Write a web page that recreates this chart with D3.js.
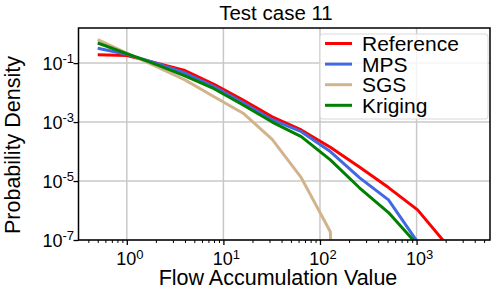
<!DOCTYPE html>
<html>
<head>
<meta charset="utf-8">
<script src="https://cdn.jsdelivr.net/npm/d3@7"></script>
<style>
  body { margin: 0; background: #fff; }
  text { font-family: 'Liberation Sans', Arial, sans-serif; fill: #000; }
</style>
</head>
<body>
<script>
var width = 500
var height = 297
/* global d3 */

// histogram bin centres (flow accumulation value)
var bins = [0.5, 1, 2, 4, 8, 16, 32, 64, 128, 256, 512, 1024, 2048]

// probability density per series (0 = empty bin, null = no bin)
var reference = [0.19, 0.18, 0.102, 0.056, 0.019, 0.0056, 1.5e-3, 5.4e-4, 1.4e-4, 3.0e-5, 6.0e-6, 1.05e-6, 7e-8]
var mps = [0.32, 0.2, 0.10, 0.046, 0.016, 4.5e-3, 1.2e-3, 4.7e-4, 1.0e-4, 1.3e-5, 2.3e-6, 8.5e-8, null]
var sgs = [0.62, 0.22, 0.078, 0.027, 7.2e-3, 2.0e-3, 2.6e-4, 1.3e-5, 1.9e-7, 0, null, null, null]
var kriging = [0.48, 0.21, 0.091, 0.037, 0.0135, 3.8e-3, 1.0e-3, 3.2e-4, 5.2e-5, 5.9e-6, 8.5e-7, 6.8e-8, null]

var seriesNames = ['Reference', 'MPS', 'SGS', 'Kriging']
var seriesColours = ['#ff0000', '#4169e1', '#d2b48c', '#008000']
var seriesValues = [reference, mps, sgs, kriging]

var xTicks = [1, 10, 100, 1000]
var yTicks = [1e-1, 1e-3, 1e-5, 1e-7]

var margin = { left: 78.5, right: 10, top: 28, bottom: 57 }

var svg = d3.select('body').append('svg')
  .attr('width', width)
  .attr('height', height)

var x = d3.scaleLog()
  .domain([Math.pow(10, -0.5), Math.pow(10, 3.76)])
  .range([margin.left, width - margin.right])

var y = d3.scaleLog()
  .domain([1e-7, Math.pow(10, 0.19)])
  .range([height - margin.bottom, margin.top])

var x0 = margin.left
var x1 = width - margin.right
var y0 = height - margin.bottom
var y1 = margin.top

svg.append('defs').append('clipPath').attr('id', 'plot')
  .append('rect')
  .attr('x', x0).attr('y', y1)
  .attr('width', x1 - x0).attr('height', y0 - y1)

// grid
var grid = svg.append('g').attr('stroke', '#c8c8c8').attr('stroke-width', 1.5)
grid.selectAll('.gx').data(xTicks).enter().append('line')
  .attr('x1', function (d) { return x(d) }).attr('x2', function (d) { return x(d) })
  .attr('y1', y1).attr('y2', y0)
grid.selectAll('.gy').data(yTicks).enter().append('line')
  .attr('y1', function (d) { return y(d) }).attr('y2', function (d) { return y(d) })
  .attr('x1', x0).attr('x2', x1)

// minor x ticks
var minor = []
for (var e = -1; e <= 3; e++) {
  for (var m = 2; m <= 9; m++) {
    var v = m * Math.pow(10, e)
    if (v >= x.domain()[0] && v <= x.domain()[1]) minor.push(v)
  }
}

svg.append('g').attr('transform', 'translate(0,' + y0 + ')')
  .call(d3.axisBottom(x).tickValues(minor).tickSize(3).tickFormat(''))
  .call(function (g) { g.select('.domain').remove() })
  .selectAll('line').attr('stroke-width', 1)

svg.append('g').attr('transform', 'translate(0,' + y0 + ')')
  .call(d3.axisBottom(x).tickValues(xTicks).tickSize(5).tickFormat(''))
  .call(function (g) { g.select('.domain').remove() })
  .selectAll('line').attr('stroke-width', 1.3)

svg.append('g').attr('transform', 'translate(' + x0 + ',0)')
  .call(d3.axisLeft(y).tickValues(yTicks).tickSize(5).tickFormat(''))
  .call(function (g) { g.select('.domain').remove() })
  .selectAll('line').attr('stroke-width', 1.3)

// x tick labels
var xl = svg.selectAll('.xl').data(xTicks).enter().append('text')
  .attr('x', function (d) { return x(d) + 3 })
  .attr('y', 265)
  .attr('text-anchor', 'middle')
  .style('font-size', '18px')
xl.append('tspan').text('10')
xl.append('tspan').attr('dy', '-0.5em').style('font-size', '13px')
  .text(function (d) { return Math.round(Math.log10(d)) })

// y tick labels
var yl = svg.selectAll('.yl').data(yTicks).enter().append('text')
  .attr('x', 74)
  .attr('y', function (d) { return y(d) + 6.5 })
  .attr('text-anchor', 'end')
  .style('font-size', '18px')
yl.append('tspan').text('10')
yl.append('tspan').attr('dy', '-0.5em').style('font-size', '13px')
  .text(function (d) { return '-' + Math.abs(Math.round(Math.log10(d))) })

// lines
var line = d3.line()
  .x(function (d) { return x(d[0]) })
  .y(function (d) { return d[1] > 0 ? y(d[1]) : y0 + 1000 })

var lines = svg.append('g').attr('clip-path', 'url(#plot)')
seriesValues.forEach(function (vals, i) {
  var pts = bins.map(function (b, j) { return [b, vals[j]] })
    .filter(function (d) { return d[1] !== null })
  lines.append('path')
    .attr('d', line(pts))
    .attr('fill', 'none')
    .attr('stroke', seriesColours[i])
    .attr('stroke-width', 3)
    .attr('stroke-linejoin', 'round')
})

// frame
svg.append('rect')
  .attr('x', x0).attr('y', y1)
  .attr('width', x1 - x0).attr('height', y0 - y1)
  .attr('fill', 'none').attr('stroke', '#000').attr('stroke-width', 1.5)

// legend
var legend = svg.append('g')
legend.append('rect')
  .attr('x', 320).attr('y', 34).attr('width', 168).attr('height', 85)
  .attr('rx', 3)
  .attr('fill', 'rgba(255,255,255,0.8)')
  .attr('stroke', '#d9d9d9').attr('stroke-width', 1)
seriesNames.forEach(function (name, i) {
  var ly = 43.5 + i * 20.6
  legend.append('line')
    .attr('x1', 325).attr('x2', 352)
    .attr('y1', ly).attr('y2', ly)
    .attr('stroke', seriesColours[i]).attr('stroke-width', 3)
  legend.append('text')
    .attr('x', 362).attr('y', ly + 7.5)
    .style('font-size', '21px')
    .text(name)
})

// titles
svg.append('text')
  .attr('x', 276).attr('y', 20)
  .attr('text-anchor', 'middle')
  .style('font-size', '20.5px')
  .text('Test case 11')

svg.append('text')
  .attr('x', 278).attr('y', 285)
  .attr('text-anchor', 'middle')
  .style('font-size', '21.5px')
  .text('Flow Accumulation Value')

svg.append('text')
  .attr('transform', 'translate(20,145) rotate(-90)')
  .attr('text-anchor', 'middle')
  .style('font-size', '21.5px')
  .text('Probability Density')
</script>
</body>
</html>
